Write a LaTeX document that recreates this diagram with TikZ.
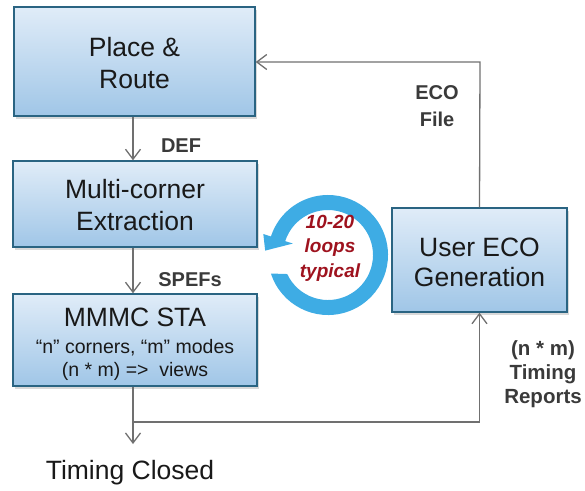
\documentclass[tikz,border=0pt]{standalone}
\usepackage{fontspec}
\setmainfont{Liberation Sans}
\usetikzlibrary{arrows.meta,shadows}
\definecolor{boxtop}{RGB}{224,236,248}
\definecolor{boxbot}{RGB}{160,198,231}
\definecolor{boxline}{RGB}{42,100,130}
\definecolor{conncol}{RGB}{112,112,112}
\definecolor{lblcol}{RGB}{58,58,58}
\definecolor{loopblue}{RGB}{62,172,228}
\definecolor{loopred}{RGB}{158,18,30}
\tikzset{
  procbox/.style={draw=boxline, line width=1.4pt, top color=boxtop, bottom color=boxbot,
    drop shadow={opacity=0.3, shadow xshift=2pt, shadow yshift=-2.5pt},
    align=center, text=black!90, inner sep=0pt,
    font=\fontsize{26.5}{32}\selectfont},
  conn/.style={draw=conncol, line width=1.3pt},
  arr/.style={-{Straight Barb[length=10pt,width=15pt]}},
  lbl/.style={text=lblcol, font=\bfseries\fontsize{20}{27}\selectfont, align=center, inner sep=0pt}
}
\begin{document}
\begin{tikzpicture}[x=1pt,y=-1pt]
\useasboundingbox (0,0) rectangle (585,490);
% boxes
\node[procbox, minimum width=241pt, minimum height=109pt] (pr) at (134.5,61.5) {\rule{0pt}{23pt}Place \&\\Route};
\node[procbox, minimum width=244pt, minimum height=86pt] (mc) at (135,204) {\rule{0pt}{22pt}Multi-corner\\Extraction};
\node[procbox, minimum width=244pt, minimum height=92pt, font=\fontsize{19.5}{23}\selectfont] (sta) at (135,340)
  {{\fontsize{26.5}{30}\selectfont\rule{0pt}{27pt}MMMC STA}\\[3.5pt]“n” corners, “m” modes\\(n * m) =>~~views};
\node[procbox, minimum width=175pt, minimum height=104pt, font=\fontsize{26.5}{30}\selectfont] (eco) at (479.5,260) {\rule{0pt}{23pt}User ECO\\Generation};
% labels
\node[lbl] (def) at (181,146) {DEF};
\node[lbl] (spef) at (190,280) {SPEFs};
\node[lbl] (ecof) at (437,106) {ECO\\File};
\node[lbl, font=\bfseries\fontsize{20.5}{24}\selectfont] (tr) at (543,374) {(n * m)\\Timing\\Reports};
\node[text=black!90, font=\fontsize{26.5}{30}\selectfont, inner sep=0pt] (tc) at (130,473) {Timing Closed};
% connectors
\coordinate (tcend) at (133,444);
\coordinate (junc) at (133,422);
\coordinate (topc) at (480,62);
\draw[conn, arr] (pr.south -| 133,0) -- (mc.north -| 133,0);
\draw[conn, arr] (mc.south -| 133,0) -- (sta.north -| 133,0);
\draw[conn, arr] (sta.south -| 133,0) -- (tcend);
\draw[conn, arr] (junc) -| (eco.south);
\draw[conn, arr] (eco.north) -- (topc) -- (topc -| pr.east);
% loop arrow
\begin{scope}[shift={(328,255)}, yscale=-1]
  \fill[loopblue] (198:60) arc[start angle=198, end angle=522, radius=60]
    -- (522:68) -- (176:63) -- (522:37) -- (522:45)
    arc[start angle=522, end angle=205, radius=45] -- cycle;
  \node[text=loopred, font=\bfseries\itshape\fontsize{19}{24.5}\selectfont, align=center, inner sep=0pt] (loops) at (2,7) {10-20\\loops\\typical};
\end{scope}
\end{tikzpicture}
\end{document}
